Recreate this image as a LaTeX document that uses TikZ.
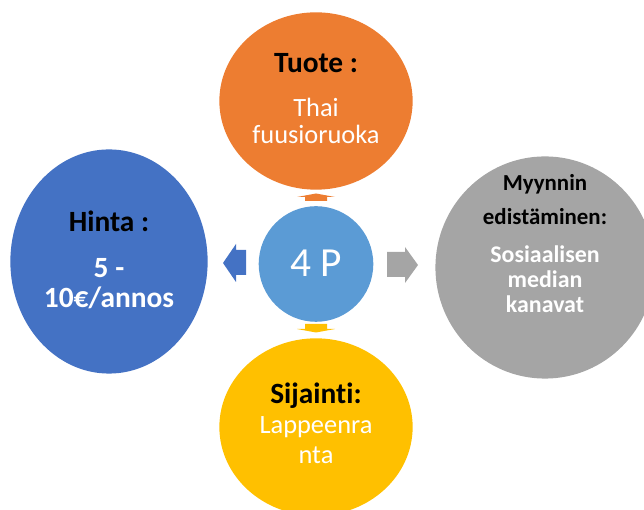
\documentclass[tikz,border=0pt]{standalone}
\usepackage{fontspec}
\setmainfont{Carlito}[Ligatures={NoCommon}]
\usepackage{tikz}
\usetikzlibrary{shapes.geometric}
\definecolor{tuoteorange}{HTML}{ED7D31}
\definecolor{hintablue}{HTML}{4472C4}
\definecolor{myyntigray}{HTML}{A5A5A5}
\definecolor{sijaintiyellow}{HTML}{FFC000}
\definecolor{keskiblue}{HTML}{5B9BD5}

\begin{document}
\begin{tikzpicture}[x=1bp,y=1bp,
	pallo/.style={ellipse,inner sep=0pt,outer sep=0pt},
	otsikko/.style={text=black,align=center,anchor=base},
	teksti/.style={text=white,align=center,anchor=base}]
				
				\useasboundingbox (0,0) rectangle (644,510);
				\clip (0,0) rectangle (644,510);
				
				% the four P's round the middle
				\node[pallo,fill=tuoteorange,minimum width=194,minimum height=178] (tuote) at (316,409) {};
				\node[pallo,fill=hintablue,minimum width=198,minimum height=225] (hinta) at (109,248.5) {};
				\node[pallo,fill=myyntigray,minimum width=220,minimum height=223] (myynti) at (545,242.5) {};
				\node[pallo,fill=sijaintiyellow,minimum width=194,minimum height=178] (sijainti) at (316,83) {};
				\node[pallo,fill=keskiblue,minimum width=115,minimum height=116] (keski) at (316,246) {};
				
				% block arrows out of the middle
				\fill[tuoteorange] (305,309) -- (305,313) -- (297,313) -- (316,316.5) -- (335,313) -- (327,313) -- (327,309) -- cycle;
				\fill[sijaintiyellow] (305,186) -- (305,181) -- (297,181) -- (316,177.5) -- (335,181) -- (327,181) -- (327,186) -- cycle;
				\fill[hintablue] (246,260) -- (236,260) -- (236,266) -- (223,247) -- (236,228) -- (236,235) -- (246,235) -- cycle;
				\fill[myyntigray] (387,258) -- (405,258) -- (405,263) -- (418,245) -- (405,227) -- (405,233) -- (387,233) -- cycle;
				
				% texts (base = baseline of the last line)
				\node[teksti,font=\fontsize{41.5}{44}\selectfont] (keskitxt) at (316,233) {4 P};
				
				\node[otsikko,font=\bfseries\fontsize{29.5}{31}\selectfont] (tuoteotsikko) at (316,437) {Tuote :};
				\node[teksti,font=\fontsize{26.5}{28}\selectfont] (tuotetxt) at (316,366) {Thai\\fuusioruoka};
				
				\node[otsikko,font=\bfseries\fontsize{29.5}{31}\selectfont] (hintaotsikko) at (109,278) {Hinta :};
				\node[teksti,font=\bfseries\fontsize{29.5}{31}\selectfont] (hintatxt) at (109,202) {5 -\\10€/annos};
				
				\node[otsikko,font=\bfseries\fontsize{23}{35}\selectfont] (myyntiotsikko) at (545,285) {Myynnin\\edistäminen:};
				\node[teksti,font=\bfseries\fontsize{24}{25.5}\selectfont] (myyntitxt) at (545,197) {Sosiaalisen\\median\\kanavat};
				
				\node[otsikko,font=\bfseries\fontsize{29.5}{31}\selectfont] (sijaintiotsikko) at (316,106) {Sijainti:};
				\node[teksti,font=\fontsize{26.5}{31}\selectfont] (sijaintitxt) at (316,46) {Lappeenra\\nta};
			\end{tikzpicture}
\end{document}
